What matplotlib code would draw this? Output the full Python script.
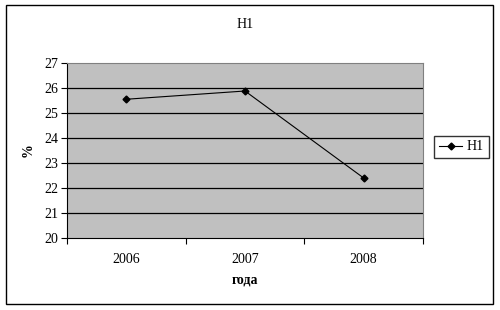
import matplotlib
matplotlib.use('Agg')
import matplotlib.pyplot as plt
from matplotlib.patches import Rectangle

years = ['2006', '2007', '2008']
h1 = [25.55, 25.88, 22.4]
yticks = [20, 21, 22, 23, 24, 25, 26, 27]

plt.rcParams['font.family'] = ['Liberation Serif', 'DejaVu Serif']

fig = plt.figure(figsize=(5, 3.1), dpi=100)
fig.patches.append(Rectangle((6/500, 1-304/310), 487/500, 299/310,
                             transform=fig.transFigure, fill=False,
                             edgecolor='black', linewidth=1))

ax = fig.add_axes([67/500, 1-238/310, 356/500, 175/310])
ax.set_facecolor('#C0C0C0')

x = list(range(len(years)))
ax.plot(x, h1, color='black', linewidth=0.8, marker='D', markersize=3.5, label='H1')

ax.set_xlim(-0.5, len(years) - 0.5)
ax.set_ylim(20, 27)
ax.set_yticks(yticks)
ax.set_yticklabels([str(v) for v in yticks], fontsize=10)
for v in yticks[1:-1]:
    ax.axhline(v, color='black', linewidth=0.9, zorder=1)

ax.set_xticks([i - 0.5 for i in range(len(years) + 1)])
ax.set_xticklabels([])
ax.set_xticks(x, minor=True)
ax.set_xticklabels(years, minor=True, fontsize=10)
ax.tick_params(axis='x', which='minor', length=0, pad=10.5)
ax.tick_params(axis='x', which='major', length=4, direction='out')
ax.tick_params(axis='y', length=4, direction='out', pad=2)

for s in ['top', 'right']:
    ax.spines[s].set_color('#808080')
ax.spines['left'].set_color('black')
ax.spines['bottom'].set_color('black')

ax.set_title('H1', fontsize=10, pad=25)
ax.set_xlabel('года', fontsize=10, fontweight='bold', labelpad=6)
ax.set_ylabel('%', fontsize=10, fontweight='bold', labelpad=7)

leg = fig.legend(loc='center left', bbox_to_anchor=(434/500, 1-147/310),
                 frameon=True, fancybox=False, fontsize=10,
                 handlelength=1.7, borderpad=0.35, handletextpad=0.3,
                 borderaxespad=0)
leg.get_frame().set_edgecolor('black')
leg.get_frame().set_linewidth(1)

fig.savefig('out.png', dpi=100)
